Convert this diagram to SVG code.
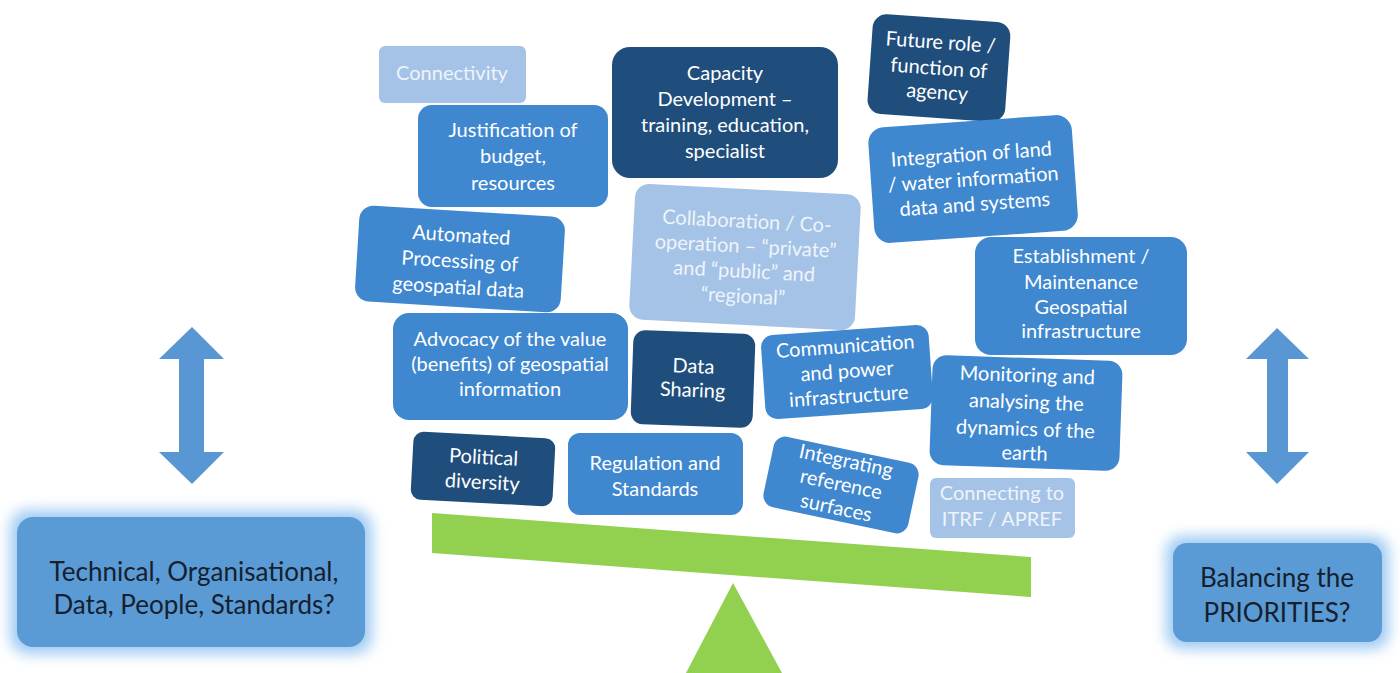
<svg xmlns="http://www.w3.org/2000/svg" width="1400" height="673" viewBox="0 0 1400 673">
<defs>
<filter id="glow" x="-20%" y="-30%" width="140%" height="160%"><feGaussianBlur stdDeviation="7"/></filter>
<style>
text{font-family:Lato,"Open Sans","Liberation Sans",sans-serif;text-anchor:middle}
.n text{font-size:20px;fill:#ffffff}
.dk rect{fill:#1f4e7d}
.md rect{fill:#3f87cf}
.lt rect{fill:#a5c3e6}
.lt text{fill:#eef4fb}
.big text{font-size:26px;fill:#15202e}
.arr{fill:#5896d4}
</style>
</defs>
<rect width="1400" height="673" fill="#ffffff"/>

<g id="scale">
<polygon points="432,513 1031,557 1031,597 432,553" fill="#92d050"/>
<polygon points="733,583 782,673 686,673" fill="#92d050"/>
</g>

<g id="connectors">
<path class="arr" d="M192,327 L224,359 L204,359 L204,452 L224,452 L192,484 L159,452 L179,452 L179,359 L159,359 Z"/>
<path class="arr" d="M1277,328 L1309,359 L1288,359 L1288,452 L1309,452 L1277,484 L1246,452 L1267,452 L1267,359 L1246,359 Z"/>
</g>

<g id="n-connectivity" class="n lt">
<rect x="379" y="46" width="147" height="57" rx="6"/>
<text x="452" y="80">Connectivity</text>
</g>

<g id="n-justification" class="n md">
<rect x="418" y="105" width="190" height="102" rx="14"/>
<text x="513" y="137">Justification of</text>
<text x="513" y="163">budget,</text>
<text x="513" y="190">resources</text>
</g>

<g id="n-automated" class="n md" transform="rotate(3.5 460 259)">
<rect x="357" y="211" width="206" height="96" rx="14"/>
<text x="460" y="242">Automated</text>
<text x="460" y="268">Processing of</text>
<text x="460" y="294">geospatial data</text>
</g>

<g id="n-capacity" class="n dk">
<rect x="612" y="47" width="226" height="131" rx="18"/>
<text x="725" y="80">Capacity</text>
<text x="725" y="106">Development –</text>
<text x="725" y="132">training, education,</text>
<text x="725" y="158">specialist</text>
</g>

<g id="n-future" class="n dk" transform="rotate(4 939 67)">
<rect x="870" y="18" width="138" height="100" rx="14"/>
<text x="939" y="49">Future role /</text>
<text x="939" y="75">function of</text>
<text x="939" y="99">agency</text>
</g>

<g id="n-integration" class="n md" transform="rotate(-4 973 178)">
<rect x="871" y="121" width="204" height="116" rx="16"/>
<text x="973" y="161">Integration of land</text>
<text x="973" y="186">/ water information</text>
<text x="973" y="211">data and systems</text>
</g>

<g id="n-collaboration" class="n lt" transform="rotate(3 745 257)">
<rect x="632" y="189" width="226" height="136" rx="14"/>
<text x="745" y="228">Collaboration / Co-</text>
<text x="745" y="253">operation – “private”</text>
<text x="745" y="278">and “public” and</text>
<text x="745" y="303">“regional”</text>
</g>

<g id="n-establishment" class="n md">
<rect x="975" y="237" width="212" height="118" rx="16"/>
<text x="1081" y="263">Establishment /</text>
<text x="1081" y="289">Maintenance</text>
<text x="1081" y="314">Geospatial</text>
<text x="1081" y="338">infrastructure</text>
</g>

<g id="n-advocacy" class="n md">
<rect x="393" y="313" width="235" height="107" rx="16"/>
<text x="510" y="346">Advocacy of the value</text>
<text x="510" y="371">(benefits) of geospatial</text>
<text x="510" y="396">information</text>
</g>

<g id="n-datasharing" class="n dk" transform="rotate(2 693 379)">
<rect x="632" y="332" width="122" height="94" rx="12"/>
<text x="693" y="373">Data</text>
<text x="693" y="397">Sharing</text>
</g>

<g id="n-communication" class="n md" transform="rotate(-4 847 372)">
<rect x="763" y="330" width="168" height="84" rx="12"/>
<text x="847" y="353">Communication</text>
<text x="847" y="378">and power</text>
<text x="847" y="403">infrastructure</text>
</g>

<g id="n-monitoring" class="n md" transform="rotate(2 1026 413)">
<rect x="931" y="358" width="190" height="110" rx="14"/>
<text x="1026" y="382">Monitoring and</text>
<text x="1026" y="409">analysing the</text>
<text x="1026" y="436">dynamics of the</text>
<text x="1026" y="460">earth</text>
</g>

<g id="n-political" class="n dk" transform="rotate(3 483 469)">
<rect x="412" y="435" width="142" height="68" rx="10"/>
<text x="483" y="464">Political</text>
<text x="483" y="489">diversity</text>
</g>

<g id="n-regulation" class="n md">
<rect x="568" y="433" width="175" height="82" rx="12"/>
<text x="655" y="470">Regulation and</text>
<text x="655" y="496">Standards</text>
</g>

<g id="n-integrating" class="n md" transform="rotate(12 841 485)">
<rect x="767" y="449" width="148" height="72" rx="12"/>
<text x="841" y="467">Integrating</text>
<text x="841" y="491">reference</text>
<text x="841" y="515">surfaces</text>
</g>

<g id="n-connecting" class="n lt">
<rect x="930" y="478" width="145" height="60" rx="6"/>
<text x="1002" y="500">Connecting to</text>
<text x="1002" y="526">ITRF / APREF</text>
</g>

<g id="n-technical" class="big">
<rect x="10" y="510" width="362" height="144" rx="18" fill="#9fcbf3" filter="url(#glow)"/>
<rect x="17" y="517" width="348" height="130" rx="16" fill="#5b9bd5"/>
<text x="194" y="581">Technical, Organisational,</text>
<text x="194" y="614">Data, People, Standards?</text>
</g>

<g id="n-balancing" class="big">
<rect x="1166" y="536" width="223" height="113" rx="16" fill="#9fcbf3" filter="url(#glow)"/>
<rect x="1173" y="543" width="209" height="99" rx="14" fill="#5b9bd5"/>
<text x="1277" y="587">Balancing the</text>
<text x="1277" y="622">PRIORITIES?</text>
</g>
</svg>
